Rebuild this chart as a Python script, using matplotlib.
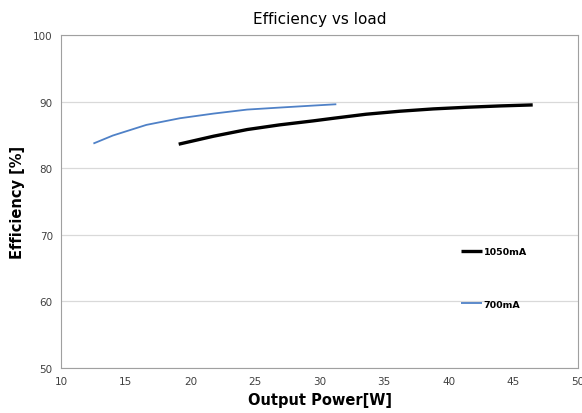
import matplotlib
matplotlib.use("Agg")
from matplotlib import pyplot

# 出力電力[W]と効率[%]
power_700 = [12.5, 14.0, 16.6, 19.2, 21.8, 24.4, 26.9, 29.5, 31.3]
eff_700 = [83.7, 84.9, 86.5, 87.5, 88.2, 88.8, 89.1, 89.4, 89.6]
power_1050 = [19.1, 21.8, 24.4, 26.9, 29.5, 31.1, 33.6, 36.2, 38.8, 41.4, 44.0, 46.5]
eff_1050 = [83.6, 84.8, 85.8, 86.5, 87.1, 87.5, 88.1, 88.55, 88.9, 89.15, 89.35, 89.5]

x_ticks = [10, 15, 20, 25, 30, 35, 40, 45, 50]
y_ticks = [50, 60, 70, 80, 90, 100]

fig = pyplot.figure(figsize=(5.82, 4.14), dpi=100)
ax = fig.add_axes([0.105, 0.109, 0.888, 0.804])

ax.plot(power_1050, eff_1050, color="black", lw=2.4, label="1050mA", zorder=3,
        solid_capstyle="butt")
ax.plot(power_700, eff_700, color="#4f81c7", lw=1.3, label="700mA", zorder=3,
        solid_capstyle="butt")

ax.set_xlim(10, 50)
ax.set_ylim(50, 100)
ax.set_xticks(x_ticks)
ax.set_yticks(y_ticks)
ax.tick_params(length=0, labelsize=7.5, labelcolor="#404040", pad=6)
ax.grid(axis="y", color="#d9d9d9", lw=0.9, zorder=0)
for s in ax.spines.values():
    s.set_color("#a0a0a0")

ax.set_title("Efficiency vs load", fontsize=11, pad=9)
ax.set_xlabel("Output Power[W]", fontsize=10.5, fontweight="bold", labelpad=4)
ax.set_ylabel("Efficiency [%]", fontsize=10.5, fontweight="bold", labelpad=6)

leg = ax.legend(loc="upper left", bbox_to_anchor=(0.764, 0.377), frameon=False,
                handlelength=2.3, handletextpad=0.15, labelspacing=4.6,
                borderpad=0, prop={"weight": "bold", "size": 6.8})

fig.savefig("out.png", dpi=100)
